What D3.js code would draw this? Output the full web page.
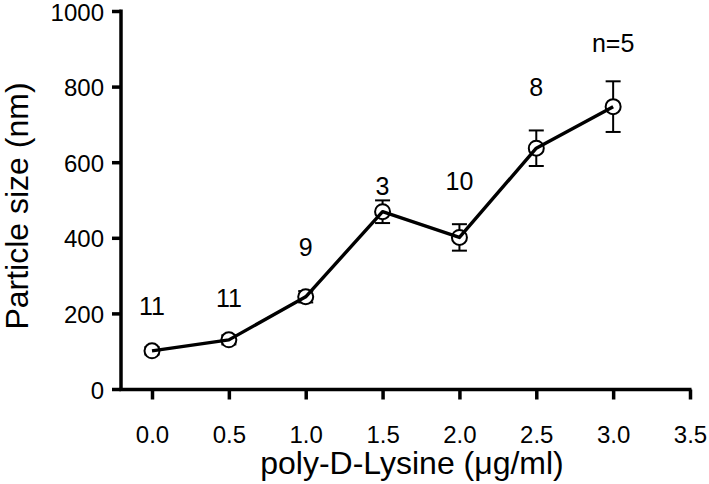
<!DOCTYPE html>
<html>
<head>
<meta charset="utf-8">
<script src="https://cdn.jsdelivr.net/npm/d3@7"></script>
<style>
  html, body { margin: 0; padding: 0; background: #fff; }
  svg { display: block; }
  text { font-family: "Liberation Sans", Arial, Helvetica, sans-serif; fill: #000; }
</style>
</head>
<body>
<svg id="chart" width="709" height="484"></svg>
<script>
// ---- data ----
const concentrations = [0.0, 0.5, 1.0, 1.5, 2.0, 2.5, 3.0];
const particleSize   = [101, 130, 244, 469, 401, 637, 747];
const sizeError      = [10, 12, 15, 30, 35, 47, 67];
const nLabels        = ["11", "11", "9", "3", "10", "8", "n=5"];
const nLabelLevel    = [196, 218, 352, 513, 526, 776, 891];
const xTicks = [0.0, 0.5, 1.0, 1.5, 2.0, 2.5, 3.0, 3.5];
const yTicks = [0, 200, 400, 600, 800, 1000];
const xTitle = "poly-D-Lysine (\u03BCg/ml)";
const yTitle = "Particle size (nm)";

// ---- layout ----
const svg = d3.select("#chart");
const axisX0 = 121, x0 = 152, x1 = 690;
const yBottom = 389, yTop = 11;

const x = d3.scaleLinear().domain([0, 3.5]).range([x0, x1]);
const y = d3.scaleLinear().domain([0, 1000]).range([yBottom, yTop]);

const points = concentrations.map((c, i) => ({
  c, v: particleSize[i], e: sizeError[i], n: nLabels[i], ly: nLabelLevel[i]
}));

// axes lines
svg.append("line").attr("x1", axisX0).attr("x2", axisX0)
  .attr("y1", yTop - 1.5).attr("y2", yBottom + 1.75)
  .attr("stroke", "#000").attr("stroke-width", 3.5);
svg.append("line").attr("x1", axisX0 - 1.75).attr("x2", x1 + 1.5)
  .attr("y1", yBottom + 0.5).attr("y2", yBottom + 0.5)
  .attr("stroke", "#000").attr("stroke-width", 3.5);

// y axis ticks & labels
const yAxis = d3.axisLeft(y).tickValues(yTicks).tickSize(9).tickPadding(8)
  .tickFormat(d3.format("d"));
const gy = svg.append("g").attr("transform", `translate(${axisX0},0)`).call(yAxis);
gy.select(".domain").remove();
gy.selectAll(".tick line").attr("stroke", "#000").attr("stroke-width", 3.5);
gy.selectAll(".tick text").attr("font-size", 24).attr("dy", "0.38em")
  .style("font-family", '"Liberation Sans", Arial, sans-serif');

// x axis ticks & labels
const xAxis = d3.axisBottom(x).tickValues(xTicks).tickSize(10).tickPadding(26)
  .tickFormat(d3.format(".1f"));
const gx = svg.append("g").attr("transform", `translate(0,${yBottom + 0.5})`).call(xAxis);
gx.select(".domain").remove();
gx.selectAll(".tick line").attr("stroke", "#000").attr("stroke-width", 3.5);
gx.selectAll(".tick text").attr("font-size", 24)
  .style("font-family", '"Liberation Sans", Arial, sans-serif');

// axis titles
svg.append("text").attr("x", 412).attr("y", 474)
  .attr("text-anchor", "middle").attr("font-size", 32).text(xTitle);
svg.append("text")
  .attr("transform", `translate(28,${206}) rotate(-90)`)
  .attr("text-anchor", "middle").attr("font-size", 32).text(yTitle);

// error bars
const eb = svg.append("g").attr("stroke", "#000").attr("stroke-width", 2);
points.forEach(p => {
  const cx = x(p.c);
  eb.append("line").attr("x1", cx).attr("x2", cx)
    .attr("y1", y(p.v + p.e)).attr("y2", y(p.v - p.e));
  eb.append("line").attr("x1", cx - 7.5).attr("x2", cx + 7.5)
    .attr("y1", y(p.v + p.e)).attr("y2", y(p.v + p.e));
  eb.append("line").attr("x1", cx - 7.5).attr("x2", cx + 7.5)
    .attr("y1", y(p.v - p.e)).attr("y2", y(p.v - p.e));
});

// markers
svg.append("g").selectAll("circle").data(points).join("circle")
  .attr("cx", d => x(d.c)).attr("cy", d => y(d.v)).attr("r", 7.5)
  .attr("fill", "#fff").attr("stroke", "#000").attr("stroke-width", 2);

// connecting line
svg.append("path").datum(points)
  .attr("fill", "none").attr("stroke", "#000").attr("stroke-width", 3.4)
  .attr("stroke-linejoin", "round")
  .attr("d", d3.line().x(d => x(d.c)).y(d => y(d.v)));

// n labels
svg.append("g").selectAll("text").data(points).join("text")
  .attr("x", d => x(d.c)).attr("y", d => y(d.ly))
  .attr("text-anchor", "middle").attr("font-size", 25)
  .text(d => d.n);
</script>
</body>
</html>
